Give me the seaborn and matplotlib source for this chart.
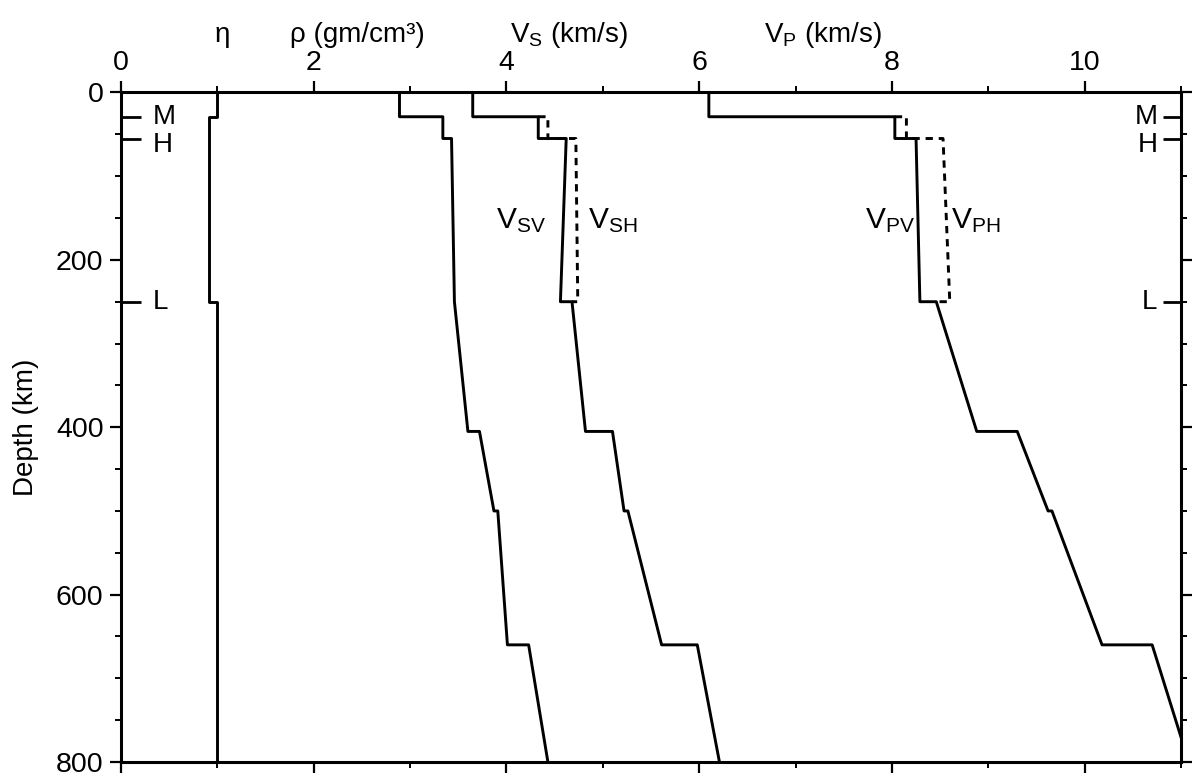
import matplotlib
matplotlib.use("Agg")
import matplotlib.pyplot as plt
import pandas as pd
import seaborn as sns
from matplotlib.ticker import MultipleLocator

# depth (km) of each vertex and the profile value at that vertex
eta_depth = [0, 29, 29, 250, 250, 800]
eta_val = [1.0, 1.0, 0.91, 0.91, 1.0, 1.0]

rho_depth = [0, 29, 29, 55, 55, 250, 405, 405, 500, 500, 660, 660, 800]
rho_val = [2.89, 2.89, 3.34, 3.34, 3.43, 3.46, 3.60, 3.72, 3.87, 3.91, 4.01, 4.23, 4.43]

vsv_depth = [0, 29, 29, 55, 55, 250, 250, 405, 405, 500, 500, 660, 660, 800]
vsv_val = [3.65, 3.65, 4.33, 4.33, 4.62, 4.56, 4.68, 4.82, 5.10, 5.22, 5.26, 5.61, 5.98, 6.21]

vsh_depth = [29, 29, 55, 55, 250, 250]
vsh_val = [4.33, 4.43, 4.43, 4.72, 4.74, 4.68]

vpv_depth = [0, 29, 29, 55, 55, 250, 250, 405, 405, 500, 500, 660, 660, 800]
vpv_val = [6.10, 6.10, 8.03, 8.03, 8.25, 8.29, 8.46, 8.88, 9.30, 9.62, 9.66, 10.18, 10.70, 11.08]

vph_depth = [29, 29, 55, 55, 250, 250]
vph_val = [8.03, 8.15, 8.15, 8.53, 8.60, 8.46]

disc_names = ["M", "H", "L"]
disc_depths = [29, 55, 250]

top_labels = ["η", "ρ (gm/cm³)", r"V$_\mathrm{S}$ (km/s)", r"V$_\mathrm{P}$ (km/s)"]
top_label_x = [1.05, 2.45, 4.65, 7.28]

curve_labels = [r"V$_\mathrm{SV}$", r"V$_\mathrm{SH}$", r"V$_\mathrm{PV}$", r"V$_\mathrm{PH}$"]
curve_label_x = [4.15, 5.1, 7.98, 8.87]
curve_label_depth = [153, 153, 153, 153]

sns.set_style("ticks")
plt.rcParams["font.family"] = ["Liberation Sans", "DejaVu Sans"]
plt.rcParams["mathtext.fontset"] = "custom"
plt.rcParams["mathtext.rm"] = "Liberation Sans"
plt.rcParams["mathtext.it"] = "Liberation Sans:italic"
plt.rcParams["mathtext.default"] = "regular"
for key in ["text.color", "axes.labelcolor", "xtick.color", "ytick.color", "axes.edgecolor"]:
    plt.rcParams[key] = "black"


def profile(depth, val, name):
    return pd.DataFrame({"depth": depth, "value": val, "curve": name})


solid = pd.concat([
    profile(eta_depth, eta_val, "eta"),
    profile(rho_depth, rho_val, "rho"),
    profile(vsv_depth, vsv_val, "vsv"),
    profile(vpv_depth, vpv_val, "vpv"),
])
dashed = pd.concat([
    profile(vsh_depth, vsh_val, "vsh"),
    profile(vph_depth, vph_val, "vph"),
])

fig = plt.figure(figsize=(11.93, 7.81), dpi=100)
ax = fig.add_axes([0.1014, 0.0243, 0.8886, 0.8573])

sns.lineplot(data=solid, x="value", y="depth", units="curve", estimator=None,
             sort=False, color="black", lw=2.1, ax=ax)
sns.lineplot(data=dashed, x="value", y="depth", units="curve", estimator=None,
             sort=False, color="black", lw=2.1, ls=(0, (2.5, 2.0)), ax=ax)

ax.set_xlim(0, 11)
ax.set_ylim(800, 0)
ax.xaxis.set_major_locator(MultipleLocator(2))
ax.xaxis.set_minor_locator(MultipleLocator(1))
ax.yaxis.set_major_locator(MultipleLocator(200))
ax.yaxis.set_minor_locator(MultipleLocator(50))
ax.tick_params(axis="x", which="both", top=True, bottom=True,
               labeltop=True, labelbottom=False, direction="out")
ax.tick_params(axis="y", which="both", left=True, right=True, direction="out")
ax.tick_params(which="major", length=8, width=1.6, labelsize=20.5)
ax.tick_params(axis="x", which="major", pad=3.5)
ax.tick_params(axis="y", which="major", pad=4.5)
ax.tick_params(which="minor", length=4, width=1.4)
for s in ax.spines.values():
    s.set_linewidth(2.2)

ax.set_xlabel("")
ax.set_ylabel("Depth (km)", fontsize=20, labelpad=12)

# discontinuity markers on both sides
ax.hlines(disc_depths, 0, 0.019, transform=ax.get_yaxis_transform(), color="black", lw=2)
ax.hlines(disc_depths, 0.983, 1, transform=ax.get_yaxis_transform(), color="black", lw=2)
for name, d in zip(disc_names, disc_depths):
    dy = -5 if name == "H" else 0
    ax.annotate(name, (0, d), xycoords=ax.get_yaxis_transform(), xytext=(23, dy),
                textcoords="offset points", ha="left", va="center", fontsize=20)
    ax.annotate(name, (1, d), xycoords=ax.get_yaxis_transform(), xytext=(-17, dy),
                textcoords="offset points", ha="right", va="center", fontsize=20)

for lab, x in zip(top_labels, top_label_x):
    ax.text(x, 1.075, lab, transform=ax.get_xaxis_transform(), ha="center",
            va="baseline", fontsize=20)

for lab, x, d in zip(curve_labels, curve_label_x, curve_label_depth):
    ax.text(x, d, lab, ha="center", va="center", fontsize=21.5)

fig.savefig("out.png", dpi=100)
